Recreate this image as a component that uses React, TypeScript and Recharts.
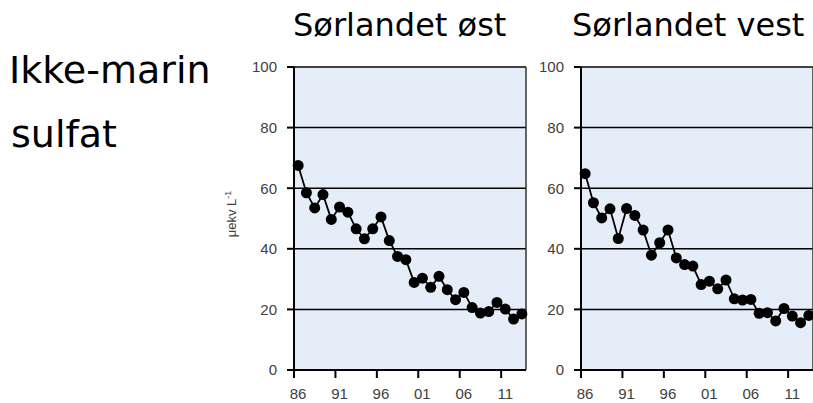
import React from "react";
import {
  CartesianGrid,
  Line,
  LineChart,
  ReferenceLine,
  XAxis,
  YAxis,
} from "recharts";

const years = [
  1986, 1987, 1988, 1989, 1990, 1991, 1992, 1993, 1994, 1995, 1996, 1997, 1998,
  1999, 2000, 2001, 2002, 2003, 2004, 2005, 2006, 2007, 2008, 2009, 2010, 2011,
  2012, 2013,
];

const sorlandetOst = [
  67.5, 58.5, 53.5, 57.9, 49.7, 53.8, 52.1, 46.6, 43.3, 46.6, 50.5, 42.7, 37.5,
  36.4, 28.9, 30.3, 27.3, 30.9, 26.5, 23.2, 25.6, 20.6, 18.8, 19.3, 22.3, 20.1,
  16.8, 18.5,
];

const sorlandetVest = [
  64.8, 55.2, 50.2, 53.2, 43.4, 53.3, 51.0, 46.2, 37.9, 42.0, 46.2, 37.0, 34.8,
  34.3, 28.2, 29.3, 26.8, 29.7, 23.5, 23.1, 23.3, 18.7, 18.9, 16.2, 20.3, 17.8,
  15.6, 18.0,
];

const xTicks = [1986, 1991, 1996, 2001, 2006, 2011];
const yTicks = [0, 20, 40, 60, 80, 100];

const TICK_FONT = "'Liberation Sans', Arial, sans-serif";
const TITLE_FONT = "'DejaVu Sans', Verdana, sans-serif";
const HALF_BAND = 4.1;

// tick mark on the year boundary, label centred on the year itself
const XTick = (props: any) => {
  const { x, y, payload } = props;
  const year = Math.ceil(payload.value);
  return (
    <g>
      <rect x={x - 1} y={y - 18} width={2} height={8} fill="#000" />
      <text
        x={x + HALF_BAND}
        y={y}
        dy="0.71em"
        textAnchor="middle"
        fill="#404040"
        fontSize={15}
        fontFamily={TICK_FONT}
      >
        {String(year % 100).padStart(2, "0")}
      </text>
    </g>
  );
};

function Panel({
  values,
  width,
  marginLeft,
  marginRight,
  yWidth,
}: {
  values: number[];
  width: number;
  marginLeft: number;
  marginRight: number;
  yWidth: number;
}) {
  const data = years.map((year, i) => ({ year, value: values[i] }));
  return (
    <LineChart
      width={width}
      height={403}
      data={data}
      style={{ overflow: "visible" }}
      margin={{ top: 67, right: marginRight, bottom: 3, left: marginLeft }}
    >
      <CartesianGrid
        vertical={false}
        stroke="#000"
        strokeWidth={1.5}
        fill="#E5EDF8"
        fillOpacity={1}
      />
      <ReferenceLine y={100} stroke="#444" strokeWidth={1.5} />
      <ReferenceLine x={2013.5} stroke="#333" strokeWidth={1.5} />
      <XAxis
        dataKey="year"
        type="number"
        domain={[1985.5, 2013.5]}
        ticks={xTicks.map((t) => t - 0.5)}
        height={30}
        tickSize={7}
        tickMargin={11}
        tickLine={false}
        axisLine={{ stroke: "#000", strokeWidth: 2 }}
        tick={<XTick />}
        interval={0}
      />
      <YAxis
        type="number"
        domain={[0, 100]}
        ticks={yTicks}
        width={yWidth}
        tickSize={7}
        tickMargin={10}
        axisLine={{ stroke: "#000", strokeWidth: 2 }}
        tickLine={{ stroke: "#000", strokeWidth: 2 }}
        tick={{ fill: "#404040", fontSize: 15, fontFamily: TICK_FONT }}
        interval={0}
      />
      <Line
        dataKey="value"
        stroke="#000"
        strokeWidth={1.8}
        dot={{ r: 5.5, fill: "#000", stroke: "none" }}
        isAnimationActive={false}
      />
    </LineChart>
  );
}

export default function App() {
  return (
    <div
      style={{
        position: "absolute",
        left: 0,
        top: 0,
        width: 813,
        height: 403,
        overflow: "hidden",
        background: "#fff",
      }}
    >
      <div style={{ position: "absolute", left: 0, top: 0 }}>
        <Panel
          values={sorlandetOst}
          width={540}
          marginLeft={214}
          marginRight={14}
          yWidth={80}
        />
      </div>
      <div style={{ position: "absolute", left: 540, top: 0 }}>
        <Panel
          values={sorlandetVest}
          width={273}
          marginLeft={0}
          marginRight={0}
          yWidth={41}
        />
      </div>
      <svg
        width={813}
        height={403}
        style={{ position: "absolute", left: 0, top: 0, pointerEvents: "none" }}
      >
        <text x={293} y={36} fontSize={32} fontFamily={TITLE_FONT} fill="#000">
          Sørlandet øst
        </text>
        <text x={572} y={36} fontSize={32} fontFamily={TITLE_FONT} fill="#000">
          Sørlandet vest
        </text>
        <text x={9} y={83} fontSize={38} fontFamily={TITLE_FONT} fill="#000">
          Ikke-marin
        </text>
        <text x={11} y={147} fontSize={38} fontFamily={TITLE_FONT} fill="#000">
          sulfat
        </text>
        <text
          transform="translate(236, 214) rotate(-90)"
          textAnchor="middle"
          fontSize={13}
          fontFamily={TICK_FONT}
          fill="#404040"
        >
          μekv L
          <tspan dy={-5} fontSize={9}>
            -1
          </tspan>
        </text>
      </svg>
    </div>
  );
}
